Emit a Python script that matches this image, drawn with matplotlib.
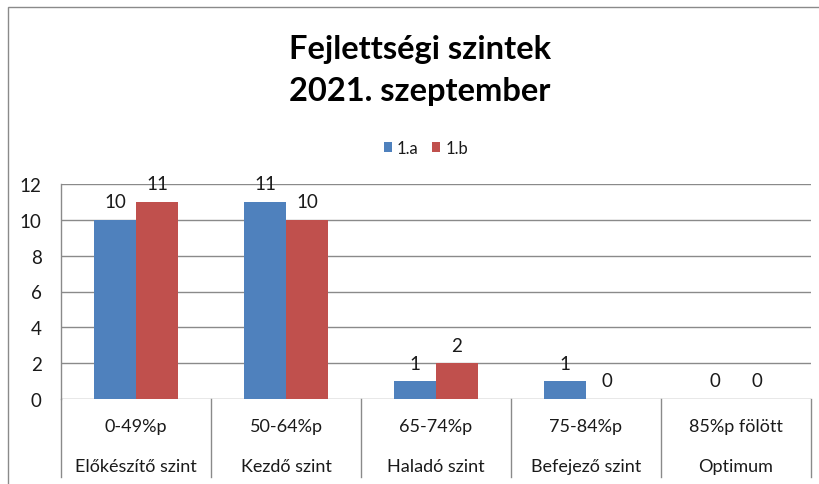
import matplotlib
matplotlib.use("Agg")
import matplotlib.pyplot as plt
from matplotlib.patches import Rectangle
import matplotlib.transforms as mtransforms
import numpy as np

title_lines = ["Fejlettségi szintek", "2021. szeptember"]
ranges = ["0-49%p", "50-64%p", "65-74%p", "75-84%p", "85%p fölött"]
levels = ["Előkészítő szint", "Kezdő szint", "Haladó szint", "Befejező szint", "Optimum"]
series_names = ["1.a", "1.b"]
values_1a = [10, 11, 1, 1, 0]
values_1b = [11, 10, 2, 0, 0]
yticks = [0, 2, 4, 6, 8, 10, 12]

colors = ["#4F81BD", "#C0504D"]
plt.rcParams['font.family'] = ['Lato', 'DejaVu Sans']
txt = "#1a1a1a"
grid_c = "#8a8a8a"

W, H = 820, 485
fig = plt.figure(figsize=(W / 100, H / 100), dpi=100)
ax = fig.add_axes([61 / W, 1 - 400 / H, (811 - 61) / W, (400 - 185) / H])

x = np.arange(len(ranges))
bw = 0.28
for i, (vals, name) in enumerate(zip([values_1a, values_1b], series_names)):
    off = (i - 0.5) * bw
    ax.bar(x + off, vals, width=bw, color=colors[i], label=name, zorder=3)
    for xi, v in zip(x + off, vals):
        ax.annotate(str(v), (xi, v), xytext=(0, 9), textcoords="offset points",
                    ha="center", va="baseline", fontsize=13.5, color=txt)

ax.set_xlim(-0.5, len(ranges) - 0.5)
ax.set_ylim(0, 12)
ax.set_yticks(yticks)
ax.set_yticklabels([str(t) for t in yticks], fontsize=13.5, color=txt)
ax.tick_params(axis="y", length=0, pad=14)
ax.set_xticks([])
ax.grid(axis="y", color=grid_c, linewidth=1, zorder=0)
for s in ["top", "right", "bottom"]:
    ax.spines[s].set_visible(False)
ax.spines["left"].set_color(grid_c)
ax.spines["left"].set_linewidth(1)

trans = mtransforms.blended_transform_factory(ax.transData, ax.transAxes)
ax_h = (400 - 185)
def ay(py):
    return (400 - py) / ax_h

for b in np.arange(-0.5, len(ranges), 1.0):
    ax.plot([b, b], [0, ay(478)], transform=trans, color=grid_c, lw=1, clip_on=False)
for xi, r, l in zip(x, ranges, levels):
    ax.text(xi, ay(432), r, transform=trans, ha="center", va="baseline", fontsize=13, color=txt)
    ax.text(xi, ay(472), l, transform=trans, ha="center", va="baseline", fontsize=13, color=txt)

for line, by in zip(title_lines, [59, 101]):
    fig.text(420 / W, 1 - by / H, line, ha="center", va="baseline", fontsize=23.5,
             fontweight="bold", color="#000000")

fig.legend(loc="center", bbox_to_anchor=(426 / W, 1 - 149 / H), ncol=2, frameon=False,
           fontsize=12, handlelength=0.5, handleheight=0.5, handletextpad=0.3,
           columnspacing=0.8, labelcolor=txt)

fig.patches.append(Rectangle((8 / W, -0.1), 1.1, 1 - 8 / H + 0.1, transform=fig.transFigure,
                             fill=False, edgecolor=grid_c, lw=1))

fig.savefig("out.png", dpi=100)
